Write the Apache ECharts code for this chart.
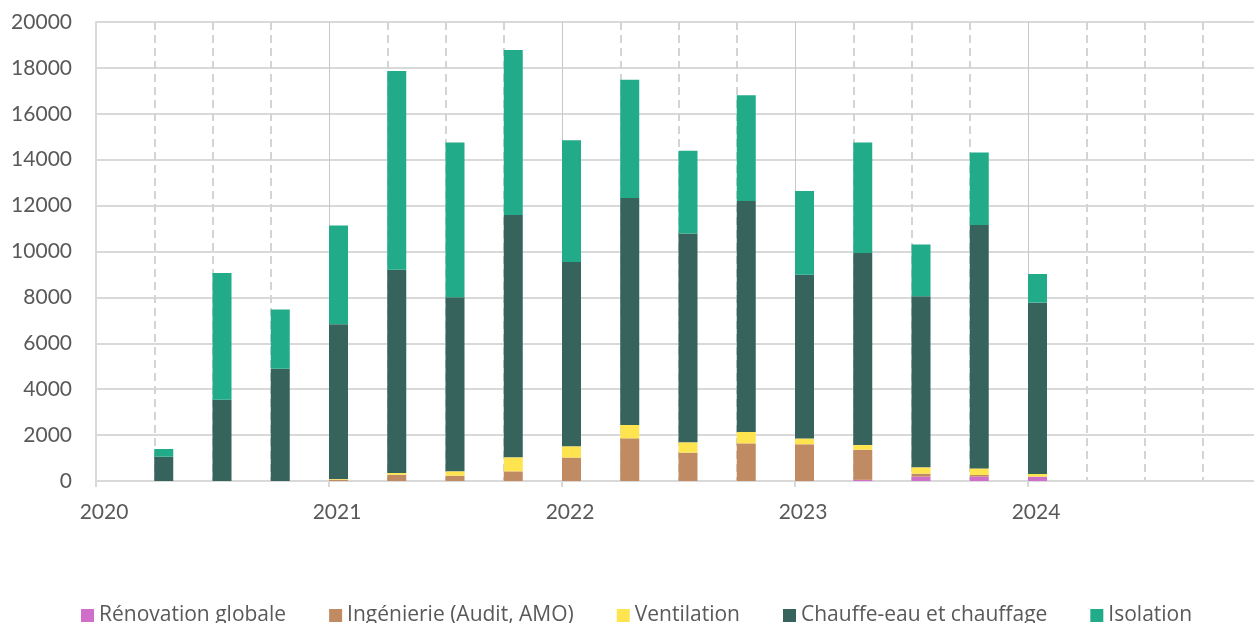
<!DOCTYPE html>
<html lang="fr">
<head>
<meta charset="utf-8">
<title>Travaux par trimestre</title>
<script src="https://cdn.jsdelivr.net/npm/echarts@6.0.0/dist/echarts.min.js"></script>
<style>
  html, body { margin: 0; padding: 0; background: #fff; }
  #chart { width: 1254px; height: 623px; }
</style>
</head>
<body>
<div id="chart"></div>
<script>
// Trimestres portés par l'axe (2020-T1 à 2025-T1, bord droit)
const trimestres = [];
for (let y = 2020; y <= 2024; y++) {
  for (let q = 1; q <= 4; q++) trimestres.push(y + '-T' + q);
}
trimestres.push('2025-T1');

// Trimestres avec des données
const periodes = [
  '2020-T2', '2020-T3', '2020-T4',
  '2021-T1', '2021-T2', '2021-T3', '2021-T4',
  '2022-T1', '2022-T2', '2022-T3', '2022-T4',
  '2023-T1', '2023-T2', '2023-T3', '2023-T4',
  '2024-T1'
];

const renovationGlobale = [0, 0, 0, 0, 0, 0, 0, 0, 0, 0, 0, 0, 50, 190, 190, 190];
const ingenierie        = [0, 0, 0, 60, 275, 230, 420, 1020, 1860, 1235, 1640, 1600, 1310, 130, 75, 0];
const ventilation       = [0, 0, 0, 30, 75, 190, 610, 490, 585, 450, 500, 250, 205, 275, 285, 120];
const chauffage         = [1060, 3540, 4890, 6745, 8860, 7590, 10560, 8030, 9890, 9095, 10065, 7140, 8365, 7460, 10605, 7460];
const isolation         = [335, 5520, 2585, 4295, 8655, 6740, 7190, 5310, 5150, 3605, 4600, 3650, 4820, 2255, 3160, 1250];

const yMax = 20000;
const yStep = 2000;

const seriesDefs = [
  { name: 'Rénovation globale', values: renovationGlobale, color: '#d06fc9' },
  { name: 'Ingénierie (Audit, AMO)', values: ingenierie, color: '#c08a62' },
  { name: 'Ventilation', values: ventilation, color: '#fee44f' },
  { name: 'Chauffe-eau et chauffage', values: chauffage, color: '#36635c' },
  { name: 'Isolation', values: isolation, color: '#21ab88' }
];

const chart = echarts.init(document.getElementById('chart'));

const labelFont = { color: '#595959', fontSize: 21, fontFamily: 'Lato' };

const series = [
  // pile vide à gauche : les barres démarrent au début du trimestre
  { type: 'bar', stack: 'ghost', barWidth: 19, barGap: '0%', silent: true, data: [] }
].concat(seriesDefs.map(s => ({
  name: s.name,
  type: 'bar',
  stack: 'total',
  barWidth: 19,
  barGap: '0%',
  itemStyle: { color: s.color },
  data: periodes.map((p, i) => [p, s.values[i]])
})));

chart.setOption({
  animation: false,
  backgroundColor: '#fff',
  grid: { left: 96, right: -7, top: 22, bottom: 142, outerBoundsMode: 'none', containLabel: false },
  xAxis: [
    {
      type: 'category',
      data: trimestres,
      boundaryGap: false,
      position: 'bottom',
      axisLine: { show: true, lineStyle: { color: '#d9d9d9', width: 2 } },
      axisTick: { show: true, interval: 3, length: 6, lineStyle: { color: '#d9d9d9', width: 2 } },
      axisLabel: Object.assign({}, labelFont, {
        interval: 3,
        margin: 21,
        padding: [0, 0, 0, 16],
        showMaxLabel: false,
        formatter: (v) => (v === trimestres[trimestres.length - 1] ? '' : v.slice(0, 4))
      }),
      splitLine: { show: true, interval: 3, lineStyle: { color: '#c8c8c8', width: 1 } }
    },
    {
      type: 'category',
      data: trimestres,
      boundaryGap: false,
      axisLine: { show: false },
      axisTick: { show: false },
      axisLabel: { show: false },
      splitLine: {
        show: true,
        interval: 0,
        lineStyle: { color: ['transparent', '#d4d4d4', '#d4d4d4', '#d4d4d4'], width: 2, type: [8, 5] }
      }
    }
  ],
  yAxis: {
    type: 'value',
    min: 0,
    max: yMax,
    interval: yStep,
    axisLine: { show: true, lineStyle: { color: '#d9d9d9', width: 2 } },
    axisTick: { show: false },
    axisLabel: Object.assign({}, labelFont, { margin: 24, formatter: (v) => String(v) }),
    splitLine: { show: true, lineStyle: { color: '#d9d9d9', width: 2 } }
  },
  legend: {
    data: seriesDefs.map(s => s.name),
    top: 600,
    left: 76,
    icon: 'rect',
    itemWidth: 13,
    itemHeight: 13,
    itemGap: 43,
    textStyle: { color: '#595959', fontSize: 21, fontFamily: 'Open Sans' }
  },
  series: series
});
</script>
</body>
</html>
